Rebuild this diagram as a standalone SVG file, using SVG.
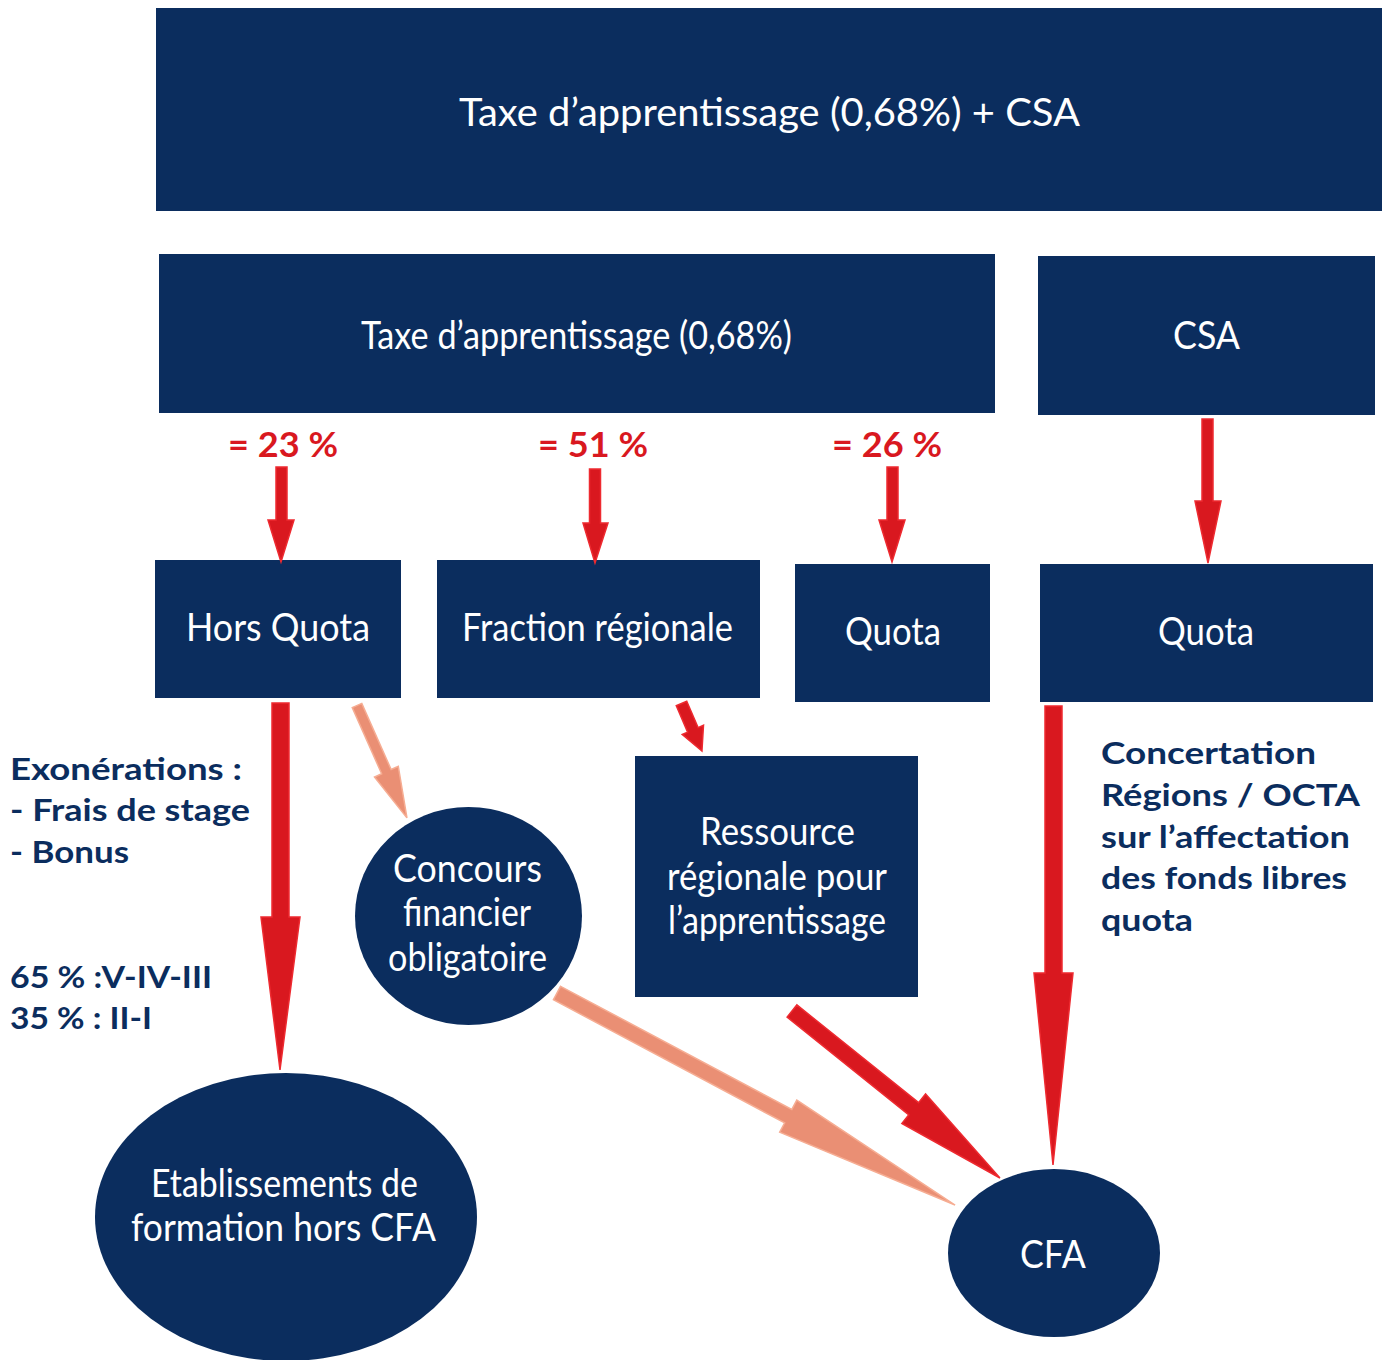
<svg xmlns="http://www.w3.org/2000/svg" width="1386" height="1360" viewBox="0 0 1386 1360">
<style>
.box{fill:#0b2d5e}
.wt{fill:#ffffff;font-family:Lato,"Open Sans",sans-serif;font-size:38px;text-anchor:middle}
.pct{fill:#d9181f;font-family:Lato,"Open Sans",sans-serif;font-size:34px;font-weight:bold;text-anchor:middle}
.nt{fill:#0b2d5e;font-family:Lato,"Open Sans",sans-serif;font-size:31px;font-weight:bold}
.red{fill:#d9181f;stroke:#ee2a30;stroke-width:1.5;stroke-linejoin:miter}
.sal{fill:#ea8f74;stroke:#f6ad93;stroke-width:1.5;stroke-linejoin:miter}
</style>
<rect width="1386" height="1360" fill="#ffffff"/>

<g id="top">
<rect class="box" x="156" y="8" width="1226" height="203"/>
<text class="wt" x="769.5" y="126" font-size="42" textLength="621" lengthAdjust="spacingAndGlyphs">Taxe d’apprentissage (0,68%) + CSA</text>
</g>
<g id="taxe">
<rect class="box" x="159" y="254" width="836" height="159"/>
<text class="wt" x="576.5" y="349" textLength="431" lengthAdjust="spacingAndGlyphs">Taxe d’apprentissage (0,68%)</text>
</g>
<g id="csa">
<rect class="box" x="1038" y="256" width="337" height="159"/>
<text class="wt" x="1206.5" y="349" textLength="67" lengthAdjust="spacingAndGlyphs">CSA</text>
</g>

<g id="labels">
<text class="pct" x="283" y="457" textLength="110" lengthAdjust="spacingAndGlyphs">= 23 %</text>
<text class="pct" x="593" y="457" textLength="110" lengthAdjust="spacingAndGlyphs">= 51 %</text>
<text class="pct" x="887" y="457" textLength="110" lengthAdjust="spacingAndGlyphs">= 26 %</text>
</g>

<g id="horsquota">
<rect class="box" x="155" y="560" width="246" height="138"/>
<text class="wt" x="278" y="641" textLength="184" lengthAdjust="spacingAndGlyphs">Hors Quota</text>
</g>
<g id="fraction">
<rect class="box" x="437" y="560" width="323" height="138"/>
<text class="wt" x="597.5" y="641" textLength="271" lengthAdjust="spacingAndGlyphs">Fraction régionale</text>
</g>
<g id="quota1">
<rect class="box" x="795" y="564" width="195" height="138"/>
<text class="wt" x="893" y="645" textLength="96" lengthAdjust="spacingAndGlyphs">Quota</text>
</g>
<g id="quota2">
<rect class="box" x="1040" y="564" width="333" height="138"/>
<text class="wt" x="1206" y="645" textLength="96" lengthAdjust="spacingAndGlyphs">Quota</text>
</g>

<g id="ressource">
<rect class="box" x="635" y="756" width="283" height="241"/>
<text class="wt" x="777.5" y="845" textLength="155" lengthAdjust="spacingAndGlyphs">Ressource</text>
<text class="wt" x="777" y="890" textLength="220" lengthAdjust="spacingAndGlyphs">régionale pour</text>
<text class="wt" x="777" y="934" textLength="218" lengthAdjust="spacingAndGlyphs">l’apprentissage</text>
</g>
<g id="concours">
<ellipse class="box" cx="468.5" cy="916" rx="113.5" ry="109"/>
<text class="wt" x="467.5" y="882" textLength="149" lengthAdjust="spacingAndGlyphs">Concours</text>
<text class="wt" x="467" y="926" textLength="128" lengthAdjust="spacingAndGlyphs">financier</text>
<text class="wt" x="467.5" y="971" textLength="159" lengthAdjust="spacingAndGlyphs">obligatoire</text>
</g>
<g id="etab">
<ellipse class="box" cx="286" cy="1217" rx="191" ry="144"/>
<text class="wt" x="284.5" y="1197" textLength="267" lengthAdjust="spacingAndGlyphs">Etablissements de</text>
<text class="wt" x="283.5" y="1241" textLength="305" lengthAdjust="spacingAndGlyphs">formation hors CFA</text>
</g>
<g id="cfa">
<ellipse class="box" cx="1054" cy="1253" rx="106" ry="84"/>
<text class="wt" x="1053" y="1268" textLength="66" lengthAdjust="spacingAndGlyphs">CFA</text>
</g>

<g id="note-left">
<text class="nt" x="10" y="780" textLength="232" lengthAdjust="spacingAndGlyphs">Exonérations :</text>
<text class="nt" x="10" y="821" textLength="240" lengthAdjust="spacingAndGlyphs">- Frais de stage</text>
<text class="nt" x="10" y="863" textLength="119" lengthAdjust="spacingAndGlyphs">- Bonus</text>
<text class="nt" x="10" y="988" textLength="202" lengthAdjust="spacingAndGlyphs">65 % :V-IV-III</text>
<text class="nt" x="10" y="1029" textLength="142" lengthAdjust="spacingAndGlyphs">35 % : II-I</text>
</g>
<g id="note-right">
<text class="nt" x="1101" y="764" textLength="215" lengthAdjust="spacingAndGlyphs">Concertation</text>
<text class="nt" x="1101" y="806" textLength="259" lengthAdjust="spacingAndGlyphs">Régions / OCTA</text>
<text class="nt" x="1101" y="848" textLength="249" lengthAdjust="spacingAndGlyphs">sur l’affectation</text>
<text class="nt" x="1101" y="889" textLength="246" lengthAdjust="spacingAndGlyphs">des fonds libres</text>
<text class="nt" x="1101" y="931" textLength="92" lengthAdjust="spacingAndGlyphs">quota</text>
</g>

<g id="connectors">
<polygon class="red" points="276,467 287,467 287,520 294,520 281,562 268,520 276,520"/>
<polygon class="red" points="589.5,469 600.5,469 600.5,523 608,523 595,563 583,523 589.5,523"/>
<polygon class="red" points="887,467 898,467 898,520 905,520 892,562 879,520 887,520"/>
<polygon class="red" points="1202,419 1213,419 1213,501 1221,501 1208,563 1195,501 1202,501"/>
<polygon class="red" points="272,703 289,703 289,917 300,917 280,1070 261,917 272,917"/>
<polygon class="red" points="1045,706 1062,706 1062,973 1073,973 1053,1165 1034,973 1045,973"/>
<path class="sal" transform="translate(357,705.5) rotate(66.04)" d="M0,-5.2 L72.4,-5.2 L72.4,-13 L123,0 L72.4,13 L72.4,5.2 L0,5.2 Z"/>
<path class="red" transform="translate(681.5,703.5) rotate(66.7)" d="M0,-5.7 L28.7,-5.7 L28.7,-11.6 L51.7,0 L28.7,11.6 L28.7,5.7 L0,5.7 Z"/>
<path class="sal" transform="translate(557,993) rotate(28.04)" d="M0,-7.6 L262,-7.6 L262,-18.2 L451,0 L262,18.2 L262,7.6 L0,7.6 Z"/>
<path class="red" transform="translate(792,1011) rotate(38.76)" d="M0,-7.8 L156.1,-7.8 L156.1,-18.9 L266.7,0 L156.1,18.9 L156.1,7.8 L0,7.8 Z"/>
</g>
</svg>
